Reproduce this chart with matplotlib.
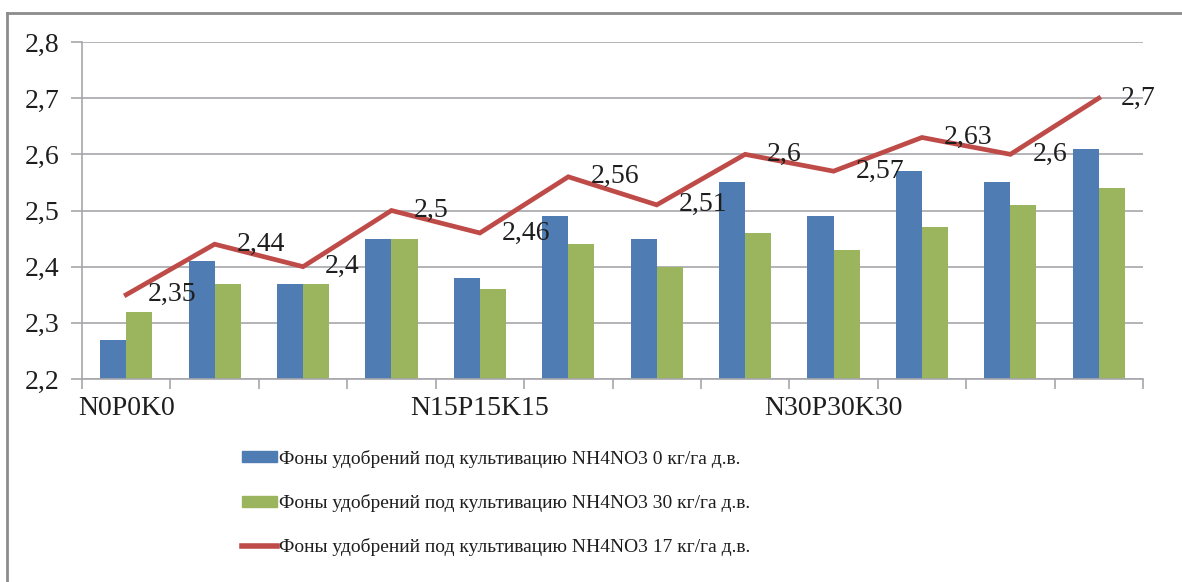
import matplotlib
matplotlib.use("Agg")
import matplotlib.pyplot as plt
from matplotlib.lines import Line2D
from matplotlib.patches import Patch
import numpy as np

categories = ["N0P0K0", "", "", "", "N15P15K15", "", "", "", "N30P30K30", "", "", ""]
blue_vals = [2.27, 2.41, 2.37, 2.45, 2.38, 2.49, 2.45, 2.55, 2.49, 2.57, 2.55, 2.61]
green_vals = [2.32, 2.37, 2.37, 2.45, 2.36, 2.44, 2.40, 2.46, 2.43, 2.47, 2.51, 2.54]
red_vals = [2.35, 2.44, 2.40, 2.50, 2.46, 2.56, 2.51, 2.60, 2.57, 2.63, 2.60, 2.70]
series_names = [
    "Фоны удобрений под культивацию NH4NO3 0 кг/га д.в.",
    "Фоны удобрений под культивацию NH4NO3 30 кг/га д.в.",
    "Фоны удобрений под культивацию NH4NO3 17 кг/га д.в.",
]
yticks = [2.2, 2.3, 2.4, 2.5, 2.6, 2.7, 2.8]

BLUE = "#4F7DB3"
GREEN = "#9BB55E"
RED = "#BE4B48"
GRID = "#A6A6AC"
TXT = "#1E1E1E"

plt.rcParams['font.family'] = ['Liberation Serif', 'DejaVu Serif']

W, H = 1182, 582
fig = plt.figure(figsize=(W / 100, H / 100), dpi=100)
ax = fig.add_axes([82 / W, 1 - 379 / H, (1143 - 82) / W, (379 - 42) / H])

x = np.arange(len(categories))
bw = 0.295
ax.bar(x - bw / 2, blue_vals, width=bw, color=BLUE, zorder=2)
ax.bar(x + bw / 2, green_vals, width=bw, color=GREEN, zorder=2)
ax.plot(x, red_vals, color=RED, lw=3.4, zorder=3, solid_joinstyle='miter')

for xi, v in zip(x, red_vals):
    s = ("%g" % v).replace(".", ",")
    ax.annotate(s, (xi, v), xytext=(22, 0), textcoords="offset pixels",
                ha="left", va="center", fontsize=20, color=TXT, zorder=4)

ax.set_xlim(-0.5, len(categories) - 0.5)
ax.set_ylim(2.2, 2.8)
ax.set_yticks(yticks)
ax.set_yticklabels([("%g" % t).replace(".", ",") for t in yticks], fontsize=20, color=TXT)
ax.set_xticks(x)
ax.set_xticklabels(categories, fontsize=20, color=TXT)
ax.set_xticks(np.arange(len(categories) + 1) - 0.5, minor=True)
ax.tick_params(axis='x', which='major', length=0, pad=12)
ax.tick_params(axis='x', which='minor', length=7, color=GRID, width=1.2)
ax.tick_params(axis='y', length=8, color=GRID, width=1.2, pad=8)
ax.yaxis.grid(True, color=GRID, lw=1.2, zorder=0)
ax.set_axisbelow(True)
for sp in ["top", "right"]:
    ax.spines[sp].set_visible(False)
for sp in ["left", "bottom"]:
    ax.spines[sp].set_color(GRID)
    ax.spines[sp].set_linewidth(1.2)

handles = [
    Patch(facecolor=BLUE, edgecolor=BLUE),
    Patch(facecolor=GREEN, edgecolor=GREEN),
    Line2D([0], [0], color=RED, lw=4),
]
leg = fig.legend(handles, series_names, loc="upper left",
                 bbox_to_anchor=(232 / W, 1 - 440 / H), frameon=False,
                 fontsize=14, handlelength=1.8, handleheight=0.5,
                 handletextpad=0.1, labelspacing=1.35, borderpad=0,
                 labelcolor=TXT)

# outer frame (left and top edges visible)
fig.add_artist(Line2D([7 / W, 7 / W], [0, 1 - 13 / H], transform=fig.transFigure,
                      color="#8C8C8C", lw=2))
fig.add_artist(Line2D([7 / W, 1], [1 - 13 / H, 1 - 13 / H], transform=fig.transFigure,
                      color="#8C8C8C", lw=2))

fig.savefig("out.png", dpi=100, facecolor="white")
